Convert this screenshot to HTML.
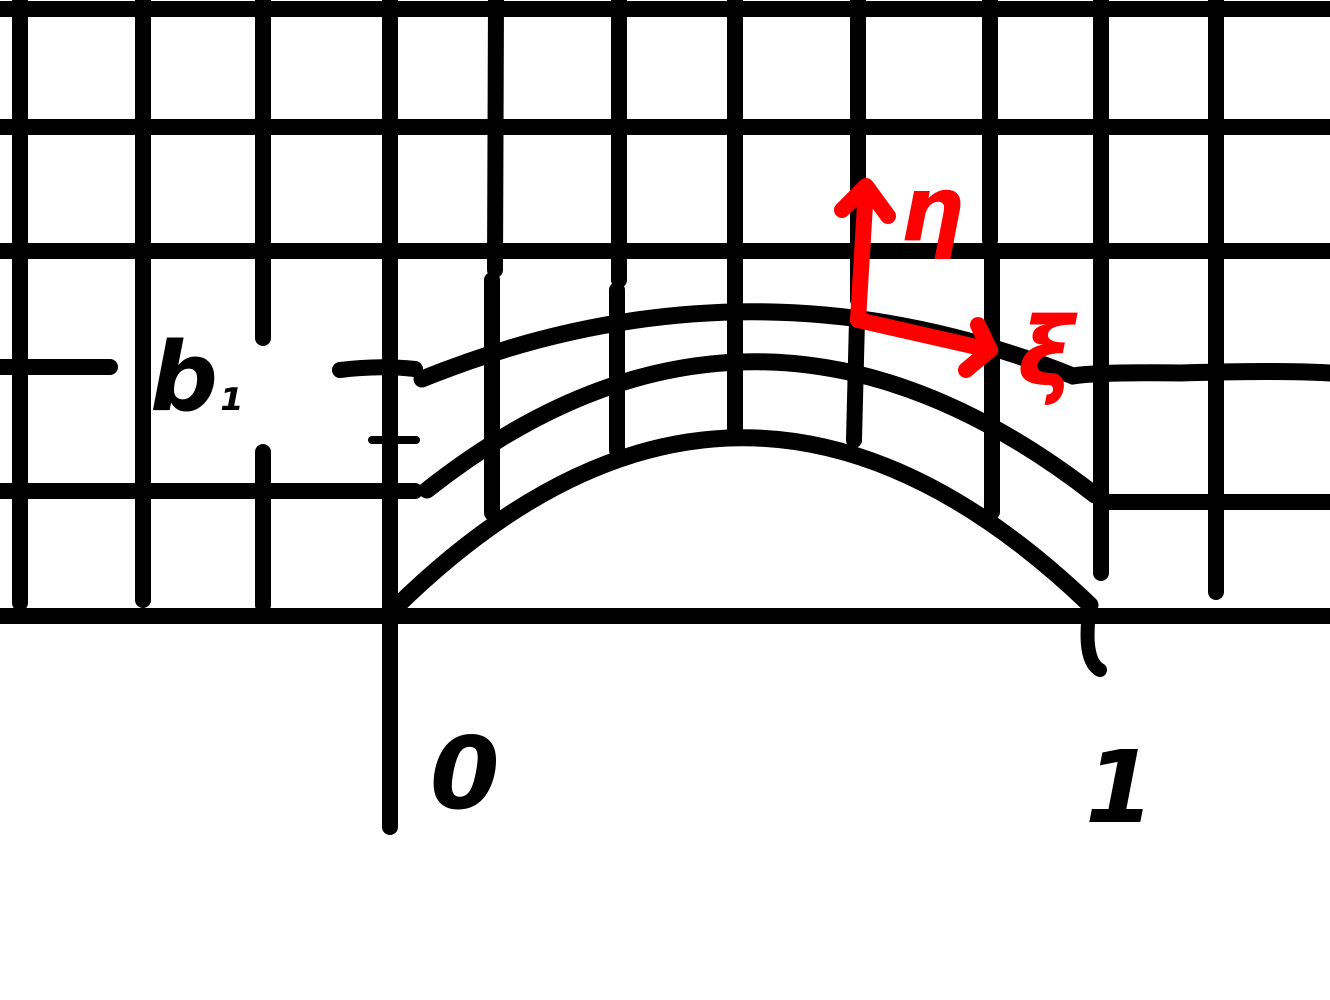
<!DOCTYPE html>
<html><head><meta charset="utf-8"><style>
html,body{margin:0;padding:0;background:#fff;}
svg{display:block}
</style></head><body>
<svg width="1330" height="1000" viewBox="0 0 1330 1000">
<g stroke="#000" stroke-width="16" stroke-linecap="round" fill="none">
<line x1="0" y1="9" x2="1330" y2="9"/>
<line x1="0" y1="127" x2="1330" y2="127"/>
<line x1="0" y1="251" x2="1330" y2="251"/>
<line x1="0" y1="616" x2="1330" y2="616" stroke-linecap="butt"/>
<line x1="0" y1="367" x2="110" y2="367"/>
<path d="M340 370 Q380 365 415 369"/>
<line x1="0" y1="491" x2="415" y2="491"/>
<line x1="1102" y1="502" x2="1330" y2="502"/>
<line x1="372" y1="440" x2="416" y2="440" stroke-width="8"/>
<line x1="20" y1="0" x2="20" y2="603"/>
<line x1="143" y1="0" x2="143" y2="600"/>
<line x1="263" y1="0" x2="263" y2="338"/>
<line x1="263" y1="452" x2="263" y2="605"/>
<line x1="390" y1="0" x2="390" y2="827"/>
<line x1="496" y1="0" x2="495" y2="270"/>
<line x1="492" y1="280" x2="492" y2="513"/>
<line x1="619" y1="0" x2="619" y2="280"/>
<line x1="617" y1="290" x2="617" y2="450"/>
<line x1="735" y1="0" x2="735" y2="428"/>
<line x1="858" y1="0" x2="858" y2="300"/>
<path d="M857 320 L854 440"/>
<line x1="990" y1="0" x2="990" y2="240"/>
<line x1="992" y1="260" x2="992" y2="512"/>
<line x1="1101" y1="0" x2="1101" y2="573"/>
<line x1="1216" y1="0" x2="1216" y2="592"/>
</g>
<g stroke="#000" stroke-width="17" stroke-linecap="round" fill="none">
<path d="M422 379 Q750 246 1073 376 Q1100 372 1180 373 Q1280 370 1330 373"/>
<path d="M427 490 Q755 231 1095 495"/>
<path d="M395 608 Q740 269 1090 605"/>
<path d="M1090 605 Q1082 660 1100 670" stroke-width="14"/>
</g>
<g stroke="#ff0000" stroke-width="16" stroke-linecap="round" stroke-linejoin="round" fill="none">
<path d="M858 320 L866 188"/>
<path d="M842 210 L866 186 L888 216"/>
<path d="M858 320 L990 350"/>
<path d="M978 325 L990 350 L966 370"/>
</g>
<g font-family="'DejaVu Sans','Liberation Sans',sans-serif" font-style="italic" font-weight="bold">
<text x="150" y="410" font-size="95" fill="#000">b<tspan font-size="55">₁</tspan></text>
<text x="430" y="808" font-size="100" fill="#000">0</text>
<text x="1085" y="822" font-size="100" fill="#000">1</text>
<text x="900" y="240" font-size="90" fill="#ff0000">η</text>
<text x="1018" y="385" font-size="95" fill="#ff0000">ξ</text>
</g>
</svg>
</body></html>
